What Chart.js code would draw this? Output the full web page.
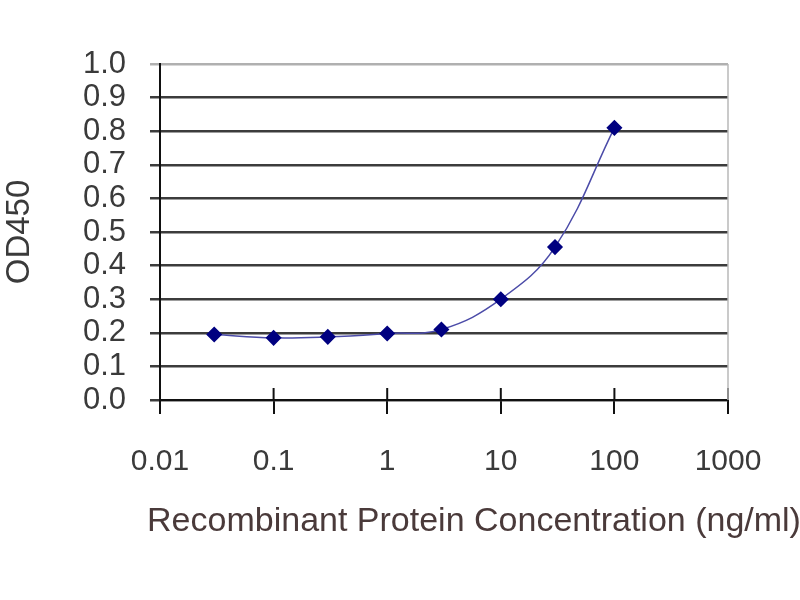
<!DOCTYPE html>
<html>
<head>
<meta charset="utf-8">
<script src="https://cdn.jsdelivr.net/npm/chart.js@4/dist/chart.umd.min.js"></script>
<style>
  html, body { margin: 0; padding: 0; background: #fff; }
  #wrap { width: 800px; height: 600px; }
</style>
</head>
<body>
<div id="wrap"><canvas id="c" width="800" height="600"></canvas></div>
<script>
// concentration (ng/ml) and measured OD450
const concentrations = [0.03, 0.1, 0.3, 1, 3, 10, 30, 100];
const od450 = [0.195, 0.185, 0.188, 0.198, 0.21, 0.30, 0.455, 0.81];

const xTickValues = [0.01, 0.1, 1, 10, 100, 1000];
const xTickLabels = ['0.01', '0.1', '1', '10', '100', '1000'];
const yTickLabels = ['0.0', '0.1', '0.2', '0.3', '0.4', '0.5', '0.6', '0.7', '0.8', '0.9', '1.0'];

const xTitle = 'Recombinant Protein Concentration (ng/ml)';
const yTitle = 'OD450';

const sans = "'Liberation Sans', Arial, sans-serif";
const textColor = '#3a3a3a';

// tick marks crossing the x axis (inner half) + the right-hand border + x title
const extras = {
  id: 'extras',
  afterDraw(chart) {
    const ctx = chart.ctx;
    const area = chart.chartArea;
    const x = chart.scales.x;
    ctx.save();
    ctx.strokeStyle = '#111';
    ctx.lineWidth = 2;
    xTickValues.forEach(v => {
      const px = x.getPixelForValue(v);
      ctx.beginPath();
      ctx.moveTo(px, area.bottom);
      ctx.lineTo(px, area.bottom - 12);
      ctx.stroke();
    });
    ctx.strokeStyle = '#b8b8b8';
    ctx.lineWidth = 1.5;
    ctx.beginPath();
    ctx.moveTo(area.right, area.top);
    ctx.lineTo(area.right, area.bottom);
    ctx.stroke();

    ctx.fillStyle = '#4a3a3a';
    ctx.font = '34px ' + sans;
    ctx.textAlign = 'center';
    ctx.textBaseline = 'middle';
    ctx.fillText(xTitle, area.left + 314, 522);
    ctx.restore();
  }
};

new Chart(document.getElementById('c'), {
  type: 'line',
  data: {
    datasets: [{
      data: concentrations.map((c, i) => ({ x: c, y: od450[i] })),
      borderColor: '#4b4ba8',
      borderWidth: 1.5,
      tension: 0.4,
      pointStyle: 'rectRot',
      pointRadius: 7,
      pointBackgroundColor: '#000080',
      pointBorderColor: '#000080',
      fill: false
    }]
  },
  options: {
    responsive: false,
    animation: false,
    layout: { padding: { top: 64, right: 72, left: 0, bottom: 0 } },
    plugins: { legend: { display: false }, tooltip: { enabled: false } },
    scales: {
      x: {
        type: 'logarithmic',
        min: 0.01,
        max: 1000,
        afterBuildTicks: scale => { scale.ticks = xTickValues.map(v => ({ value: v })); },
        afterFit: scale => { scale.height = 200; },
        ticks: {
          autoSkip: false,
          maxRotation: 0,
          color: textColor,
          font: { family: sans, size: 30 },
          padding: 30,
          callback: (v, i) => xTickLabels[i]
        },
        grid: { drawOnChartArea: false, drawTicks: true, tickLength: 14, color: '#111', lineWidth: 2 },
        border: { display: true, color: '#111', width: 2 }
      },
      y: {
        min: 0,
        max: 1,
        afterBuildTicks: scale => { scale.ticks = yTickLabels.map((t, i) => ({ value: i / 10 })); },
        afterFit: scale => { scale.width = 160; },
        ticks: {
          autoSkip: false,
          color: textColor,
          font: { family: sans, size: 31 },
          padding: 24,
          callback: (v, i) => yTickLabels[i]
        },
        grid: {
          color: ctx => ctx.index === yTickLabels.length - 1 ? '#b0b0b0' : '#3c3c3c',
          lineWidth: 2.5,
          tickLength: 10
        },
        border: { display: true, color: '#111', width: 2 },
        title: {
          display: true,
          text: yTitle,
          color: textColor,
          font: { family: sans, size: 33 },
          padding: { top: 0, bottom: 0 }
        }
      }
    }
  },
  plugins: [extras]
});
</script>
</body>
</html>
